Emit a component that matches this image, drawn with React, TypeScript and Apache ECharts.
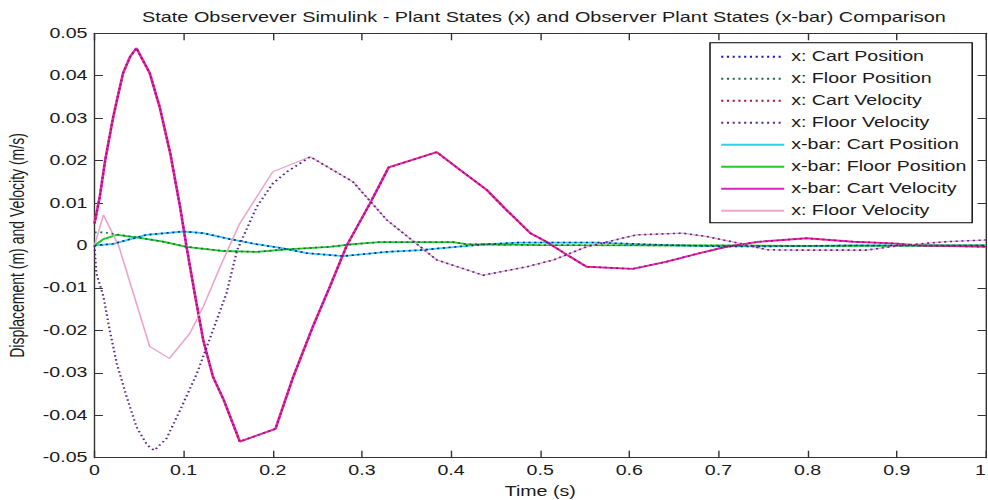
import React, { useEffect, useRef } from "react";
import * as echarts from "echarts";

// ---- data ----
const legendNames = [
  "x: Cart Position",
  "x: Floor Position",
  "x: Cart Velocity",
  "x: Floor Velocity",
  "x-bar: Cart Position",
  "x-bar: Floor Position",
  "x-bar: Cart Velocity",
  "x: Floor Velocity ",
];

const xTickLabels = ["0", "0.1", "0.2", "0.3", "0.4", "0.5", "0.6", "0.7", "0.8", "0.9", "1"];

// cart velocity (x and x-bar)
const tCartVel = [0, 0.006, 0.012, 0.021, 0.032, 0.04, 0.047, 0.062, 0.073, 0.085, 0.096, 0.103, 0.113, 0.122, 0.133, 0.145, 0.163, 0.203, 0.223, 0.245, 0.264, 0.283, 0.309, 0.33, 0.384, 0.41, 0.44, 0.462, 0.489, 0.507, 0.53, 0.552, 0.604, 0.642, 0.679, 0.709, 0.746, 0.799, 0.851, 0.896, 0.926, 1.0];
const barCartVel = [0.0052, 0.0116, 0.0201, 0.0303, 0.0406, 0.0445, 0.0465, 0.0406, 0.0327, 0.0217, 0.0091, 0.0, -0.012, -0.0223, -0.031, -0.0364, -0.0462, -0.0432, -0.0309, -0.0191, -0.0097, 0.0, 0.0099, 0.0184, 0.022, 0.0178, 0.0131, 0.0084, 0.0029, 0.0009, -0.0022, -0.005, -0.0055, -0.0038, -0.0018, -0.0003, 0.0009, 0.0017, 0.0009, 0.0005, 0.0, -0.0003];
const xCartVel = [0.0052, 0.0116, 0.0201, 0.0303, 0.0406, 0.0445, 0.0465, 0.0406, 0.0327, 0.0217, 0.0091, 0.0, -0.012, -0.0223, -0.031, -0.0364, -0.0462, -0.0432, -0.0309, -0.0191, -0.0097, 0.0, 0.0099, 0.0184, 0.022, 0.0178, 0.0131, 0.0084, 0.0029, 0.0009, -0.0022, -0.005, -0.0055, -0.0038, -0.0018, -0.0003, 0.0009, 0.0017, 0.0009, 0.0005, 0.0, -0.0003];

// floor velocity, x-bar (pink)
const tBarFloorVel = [0, 0.01, 0.027, 0.062, 0.084, 0.107, 0.122, 0.141, 0.156, 0.163, 0.2, 0.242, 0.264, 0.29, 0.328, 0.384, 0.436, 0.485, 0.515, 0.552, 0.608, 0.66, 0.687, 0.724, 0.754, 0.791, 0.866, 0.904, 0.956, 1.0];
const barFloorVel = [0, 0.0072, 0.0, -0.0238, -0.0266, -0.0207, -0.0144, -0.005, 0.002, 0.0052, 0.0174, 0.0209, 0.0182, 0.015, 0.006, -0.0034, -0.007, -0.005, -0.0034, -0.0003, 0.0025, 0.0029, 0.0021, 0.0005, -0.001, -0.0011, -0.0011, 0.0, 0.0009, 0.0013];

// floor velocity, x (dotted purple)
const tFloorVel = [0, 0.002, 0.01, 0.017, 0.025, 0.036, 0.047, 0.059, 0.067, 0.081, 0.096, 0.115, 0.133, 0.148, 0.16, 0.182, 0.2, 0.216, 0.242, 0.264, 0.29, 0.328, 0.384, 0.436, 0.485, 0.515, 0.552, 0.608, 0.66, 0.687, 0.724, 0.754, 0.791, 0.866, 0.904, 0.956, 1.0];
const xFloorVel = [0, -0.0065, -0.012, -0.0199, -0.0278, -0.0356, -0.0427, -0.047, -0.0483, -0.0454, -0.0388, -0.0301, -0.0199, -0.0113, -0.0011, 0.0091, 0.0146, 0.0174, 0.0209, 0.0182, 0.015, 0.006, -0.0034, -0.007, -0.005, -0.0034, -0.0003, 0.0025, 0.0029, 0.0021, 0.0005, -0.001, -0.0011, -0.0011, 0.0, 0.0009, 0.0013];

// cart position (x and x-bar)
const tCartPos = [0, 0.021, 0.058, 0.1, 0.122, 0.152, 0.182, 0.212, 0.238, 0.279, 0.328, 0.365, 0.406, 0.44, 0.477, 0.563, 0.642, 0.7, 0.76, 0.85, 1.0];
const barCartPos = [0, 0.0004, 0.0025, 0.0033, 0.0029, 0.0015, 0.0003, -0.0007, -0.0018, -0.0025, -0.0015, -0.0011, -0.0003, 0.0003, 0.0007, 0.0007, 0.0001, -0.0002, -0.0002, 0, 0];
const xCartPos = [0, 0.0004, 0.0025, 0.0033, 0.0029, 0.0015, 0.0003, -0.0007, -0.0018, -0.0025, -0.0015, -0.0011, -0.0003, 0.0003, 0.0007, 0.0007, 0.0001, -0.0002, -0.0002, 0, 0];

// floor position (x and x-bar)
const tFloorPos = [0, 0.01, 0.025, 0.051, 0.077, 0.103, 0.145, 0.182, 0.216, 0.264, 0.29, 0.32, 0.402, 0.417, 0.5, 0.7, 0.8, 1.0];
const barFloorPos = [0, 0.0015, 0.0025, 0.0018, 0.0009, -0.0003, -0.0013, -0.0015, -0.0009, -0.0003, 0.0003, 0.0008, 0.0008, 0.0003, 0.0001, 0, -0.0001, 0];
const xFloorPos = [0.0031, 0.0031, 0.0026, 0.0018, 0.0009, -0.0003, -0.0013, -0.0015, -0.0009, -0.0003, 0.0003, 0.0008, 0.0008, 0.0003, 0.0001, 0, -0.0001, 0];

// ---- layout (reference image is horizontally stretched) ----
const S = 1.4;
const W = 988 / S;
const FONT = "'Liberation Sans', Arial, sans-serif";

const pts = (t: number[], v: number[]) => t.map((x, i) => [x, v[i]]);

export default function App() {
  const ref = useRef<HTMLDivElement>(null);

  useEffect(() => {
    const chart = echarts.init(ref.current!, undefined, { renderer: "svg" });

    const dotted = (name: string, color: string, data: number[][]) => ({
      name,
      type: "line",
      data,
      symbol: "none",
      z: 3,
      lineStyle: { color, width: 1.6, type: [1.5, 2.6] },
      itemStyle: { color, opacity: 0 },
    });
    const solid = (name: string, color: string, width: number, data: number[][]) => ({
      name,
      type: "line",
      data,
      symbol: "none",
      z: 2,
      lineStyle: { color, width, type: "solid" },
      itemStyle: { color, opacity: 0 },
    });

    const axisLine = { show: true, onZero: false, lineStyle: { color: "#333", width: 1 } };

    const option: any = {
      animation: false,
      backgroundColor: "#fff",
      textStyle: { fontFamily: FONT },
      title: {
        text: "State Observever Simulink - Plant States (x) and Observer Plant States (x-bar) Comparison",
        left: (94.5 + 985) / 2 / S - 2,
        textAlign: "center",
        top: 5,
        textStyle: { fontFamily: FONT, fontSize: 14.2, fontWeight: "normal", color: "#1a1a1a" },
      },
      grid: {
        left: 94.5 / S,
        right: 2.5 / S,
        top: 33.3,
        bottom: 42.3,
        containLabel: false,
        outerBoundsMode: "none",
      },
      legend: {
        data: legendNames,
        orient: "vertical",
        left: 710 / S,
        top: 42.7,
        padding: [7, 4, 5, 7],
        itemGap: 8,
        itemWidth: 45,
        itemHeight: 14,
        borderColor: "#000",
        borderWidth: 1,
        backgroundColor: "#fff",
        itemStyle: { opacity: 0 },
        textStyle: { fontFamily: FONT, fontSize: 14, color: "#1a1a1a" },
      },
      xAxis: [
        {
          type: "value",
          min: 0,
          max: 1,
          interval: 0.1,
          position: "bottom",
          name: "Time (s)",
          nameLocation: "middle",
          nameGap: 27,
          nameTextStyle: { fontFamily: FONT, fontSize: 14, color: "#1a1a1a" },
          axisLine,
          axisTick: { show: true, inside: true, length: 7, lineStyle: { color: "#333" } },
          axisLabel: {
            margin: 6,
            fontFamily: FONT,
            fontSize: 14,
            color: "#1a1a1a",
            alignMaxLabel: "right",
            formatter: (v: number) => xTickLabels[Math.round(v * 10)],
          },
          splitLine: { show: false },
        },
        {
          type: "value",
          min: 0,
          max: 1,
          interval: 0.1,
          position: "top",
          axisLine,
          axisTick: { show: true, inside: true, length: 7, lineStyle: { color: "#333" } },
          axisLabel: { show: false },
          splitLine: { show: false },
        },
      ],
      yAxis: [
        {
          type: "value",
          min: -0.05,
          max: 0.05,
          interval: 0.01,
          position: "left",
          name: "Displacement (m) and Velocity (m/s)",
          nameLocation: "middle",
          nameGap: 47,
          nameTextStyle: { fontFamily: FONT, fontSize: 14, color: "#1a1a1a" },
          axisLine,
          axisTick: { show: true, inside: true, length: 6, lineStyle: { color: "#333" } },
          axisLabel: {
            margin: 5,
            fontFamily: FONT,
            fontSize: 14,
            color: "#1a1a1a",
            formatter: (v: number) => String(Number(v.toFixed(2))),
          },
          splitLine: { show: false },
        },
        {
          type: "value",
          min: -0.05,
          max: 0.05,
          interval: 0.01,
          position: "right",
          axisLine,
          axisTick: { show: true, inside: true, length: 6, lineStyle: { color: "#333" } },
          axisLabel: { show: false },
          splitLine: { show: false },
        },
      ],
      series: [
        solid(legendNames[4], "#2fd2e2", 1.8, pts(tCartPos, barCartPos)),
        solid(legendNames[5], "#22c92a", 1.8, pts(tFloorPos, barFloorPos)),
        solid(legendNames[6], "#dc22c0", 1.9, pts(tCartVel, barCartVel)),
        solid(legendNames[7], "#eaa6cc", 1.2, pts(tBarFloorVel, barFloorVel)),
        dotted(legendNames[0], "#1c1ca8", pts(tCartPos, xCartPos)),
        dotted(legendNames[1], "#1d6e3c", pts(tFloorPos, xFloorPos)),
        dotted(legendNames[2], "#b0123a", pts(tCartVel, xCartVel)),
        dotted(legendNames[3], "#5a2a8c", pts(tFloorVel, xFloorVel)),
      ],
    };

    chart.setOption(option);
    return () => chart.dispose();
  }, []);

  return (
    <div
      ref={ref}
      style={{
        position: "fixed",
        left: 0,
        top: 0,
        width: W,
        height: 500,
        transform: `scaleX(${S})`,
        transformOrigin: "0 0",
        background: "#fff",
      }}
    />
  );
}
